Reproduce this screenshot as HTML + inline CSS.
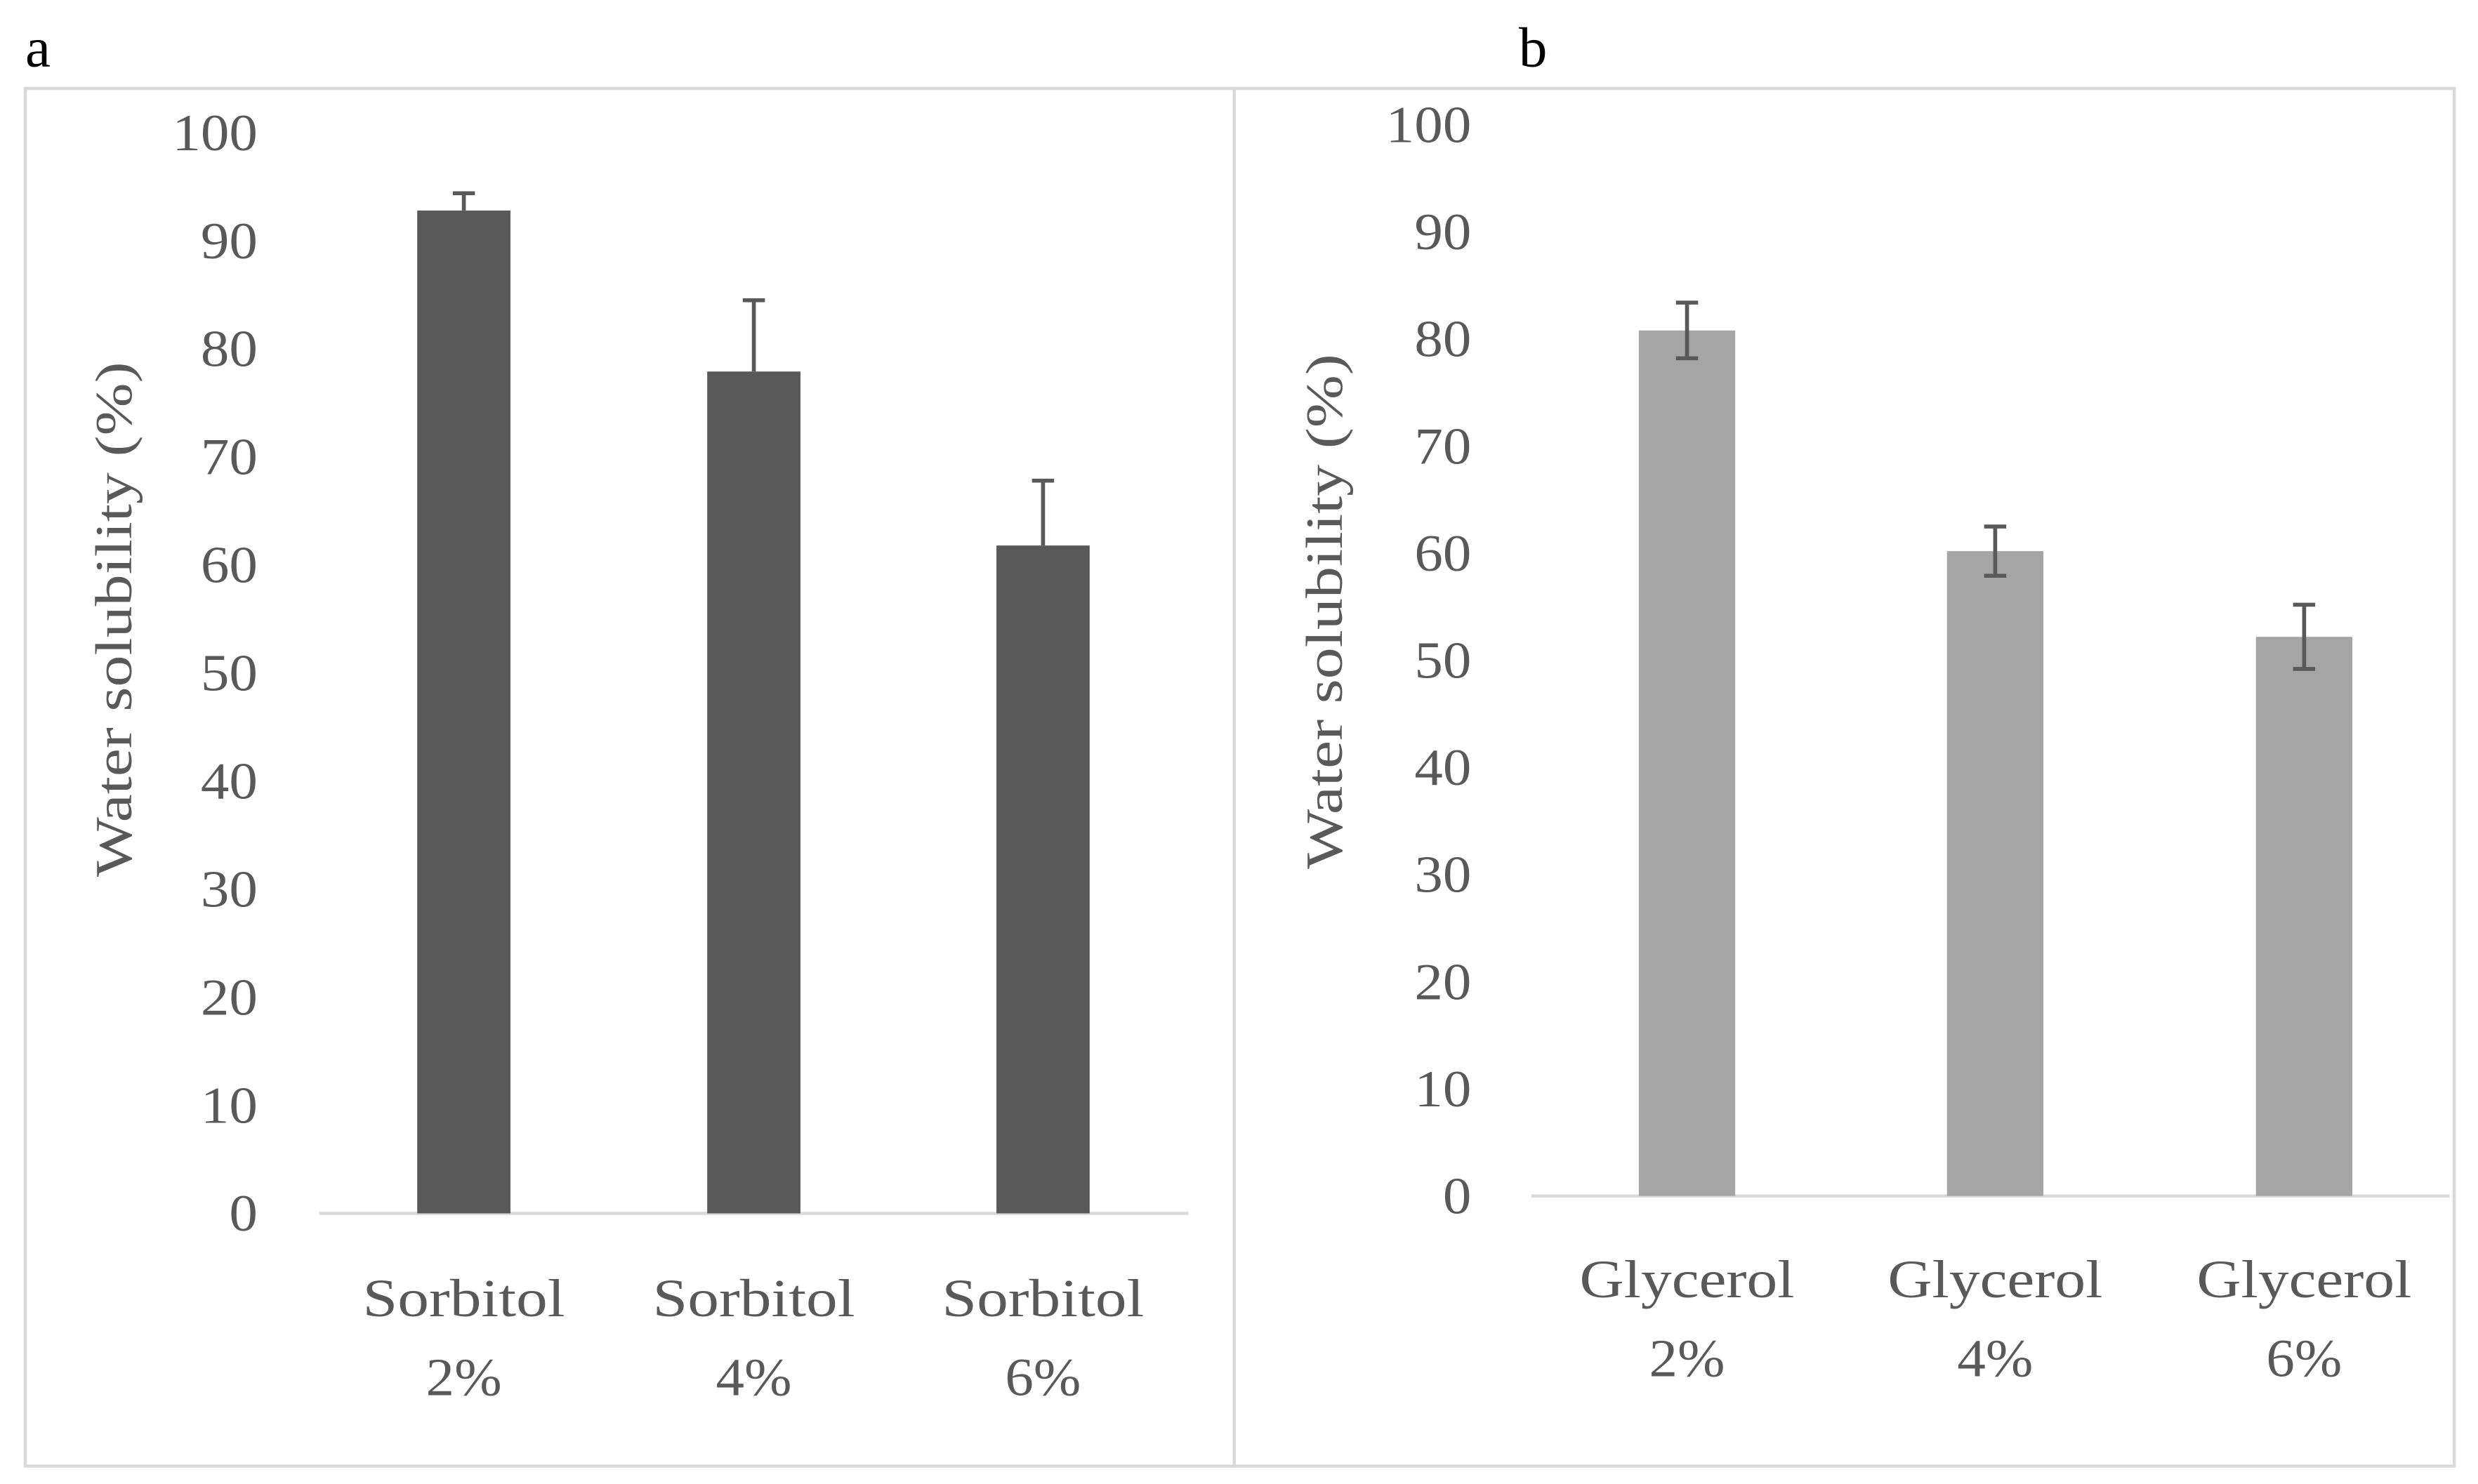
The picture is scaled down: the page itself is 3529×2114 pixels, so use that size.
<!DOCTYPE html>
<html><head><meta charset="utf-8"><style>
html,body{margin:0;padding:0;background:#fff}
svg{display:block}
text{font-family:"Liberation Serif",serif;fill:#595959}
</style></head><body>
<svg id="fig" width="3529" height="2114" viewBox="0 0 1568 939.3" xmlns="http://www.w3.org/2000/svg">
<rect x="16" y="56" width="765" height="872" fill="none" stroke="#d9d9d9" stroke-width="2"/>
<rect x="781" y="56" width="772" height="872" fill="none" stroke="#d9d9d9" stroke-width="2"/>
<text x="16" y="42" font-size="36" style="fill:#000">a</text>
<text x="961" y="42" font-size="36" style="fill:#000">b</text>
<g id="pa"></g>
<g id="pb"></g>
</svg>
<script>
const ticks = [0,10,20,30,40,50,60,70,80,90,100];
const catsA = [["Sorbitol","2%"],["Sorbitol","4%"],["Sorbitol","6%"]];
const valsA = [92.8,77.9,61.8];
const errA = [1.6,6.6,6.0];
const catsB = [["Glycerol","2%"],["Glycerol","4%"],["Glycerol","6%"]];
const valsB = [80.8,60.2,52.2];
const errB = [2.6,2.3,3.0];
const NS="http://www.w3.org/2000/svg";
function mk(tag,attrs,parent){const e=document.createElementNS(NS,tag);for(const k in attrs)e.setAttribute(k,attrs[k]);parent.appendChild(e);return e;}
function draw(g,cfg,cats,vals,errs,pfx){
  const y=v=>cfg.y0-(cfg.y0-cfg.y100)*v/100;
  const x=i=>cfg.xc[i];
  ticks.forEach(t=>{const s=String(t);const tx=mk('text',{x:cfg.tickX,y:y(t)+11,'font-size':33,'text-anchor':'end',textLength:s.length*18,lengthAdjust:'spacingAndGlyphs'},g);tx.textContent=s;
    
    });
  const ax=mk('line',{x1:cfg.ax1,x2:cfg.ax2,y1:cfg.y0,y2:cfg.y0,stroke:'#d9d9d9','stroke-width':2},g);
  
  
  const tt=mk('text',{x:0,y:0,'font-size':33,'text-anchor':'middle',textLength:326,lengthAdjust:'spacingAndGlyphs',transform:`translate(${cfg.titleX},${cfg.titleY}) rotate(-90)`},g);
  tt.textContent='Water solubility (%)';
  
  
  vals.forEach((v,i)=>{
    const r=mk('rect',{x:x(i)-cfg.bw/2,y:y(v),width:cfg.bw,height:cfg.y0-y(v),fill:cfg.color},g);
    
    
    const lo=cfg.both?v-errs[i]:v, hi=v+errs[i];
    const eg=mk('g',{stroke:'#595959','stroke-width':2.5},g);
    
    
    mk('line',{x1:x(i),x2:x(i),y1:y(lo),y2:y(hi)},eg);
    mk('line',{x1:x(i)-7,x2:x(i)+7,y1:y(hi),y2:y(hi)},eg);
    if(cfg.both)mk('line',{x1:x(i)-7,x2:x(i)+7,y1:y(lo),y2:y(lo)},eg);
    cats[i].forEach((s,j)=>{const t=mk('text',{x:x(i),y:cfg.labY+j*50,'font-size':34,'text-anchor':'middle',textLength:j==0?cfg.catW:48,lengthAdjust:'spacingAndGlyphs'},g);t.textContent=s;
      
      });
  });
}
draw(document.getElementById('pa'),{y0:768,y100:84,xc:[293.5,477,660],bw:59,tickX:163,ax1:202,ax2:752,titleX:83,titleY:392,labY:833,color:'#595959',both:false,catW:128},catsA,valsA,errA,'a');
draw(document.getElementById('pb'),{y0:757,y100:79,xc:[1067.5,1262.5,1458],bw:61,tickX:931,ax1:969,ax2:1550,titleX:849,titleY:387,labY:821,color:'#a5a5a5',both:true,catW:136},catsB,valsB,errB,'b');
</script>
</body></html>
